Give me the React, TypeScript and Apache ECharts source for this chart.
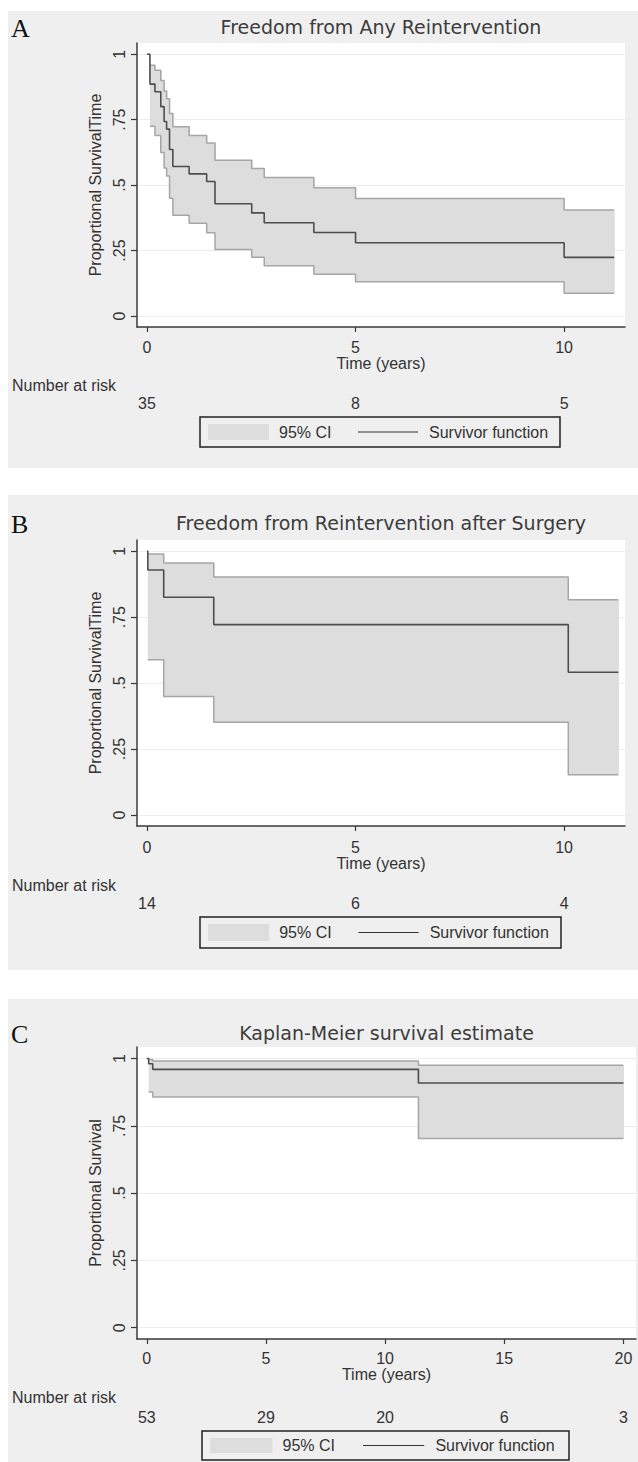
import React, { useEffect, useRef } from "react";
import * as echarts from "echarts";

// ---------------- data ----------------
const yTickValues = [0, 0.25, 0.5, 0.75, 1];

// Panel A: Freedom from Any Reintervention
const titleA = "Freedom from Any Reintervention";
const yNameA = "Proportional SurvivalTime";
const timeA = [0, 0.07, 0.19, 0.33, 0.41, 0.47, 0.54, 0.62, 1.01, 1.43, 1.63, 2.51, 2.81, 4.0, 5.0, 10.0, 11.2];
const survA = [1, 0.886, 0.857, 0.8, 0.743, 0.714, 0.636, 0.571, 0.543, 0.514, 0.429, 0.394, 0.356, 0.319, 0.28, 0.224, 0.224];
const ciTimeA = [0.07, 0.19, 0.33, 0.41, 0.47, 0.54, 0.62, 1.01, 1.43, 1.63, 2.51, 2.81, 4.0, 5.0, 10.0, 11.2];
const upperA = [0.958, 0.939, 0.9, 0.86, 0.83, 0.774, 0.723, 0.69, 0.661, 0.595, 0.564, 0.529, 0.49, 0.449, 0.405, 0.405];
const lowerA = [0.725, 0.69, 0.625, 0.565, 0.535, 0.45, 0.385, 0.354, 0.318, 0.254, 0.224, 0.192, 0.16, 0.131, 0.087, 0.087];
const xTicksA = [0, 5, 10];
const riskA = [35, 8, 5];

// Panel B: Freedom from Reintervention after Surgery
const titleB = "Freedom from Reintervention after Surgery";
const yNameB = "Proportional SurvivalTime";
const timeB = [0, 0.02, 0.4, 1.6, 10.1, 11.3];
const survB = [1, 0.929, 0.826, 0.722, 0.541, 0.541];
const ciTimeB = [0.02, 0.4, 1.6, 10.1, 11.3];
const upperB = [0.99, 0.956, 0.903, 0.816, 0.816];
const lowerB = [0.589, 0.449, 0.352, 0.152, 0.152];
const xTicksB = [0, 5, 10];
const riskB = [14, 6, 4];

// Panel C: Kaplan-Meier survival estimate
const titleC = "Kaplan-Meier survival estimate";
const yNameC = "Proportional Survival";
const timeC = [0, 0.08, 0.25, 11.4, 20.0];
const survC = [1, 0.981, 0.96, 0.909, 0.909];
const ciTimeC = [0.08, 0.25, 11.4, 20.0];
const upperC = [0.997, 0.991, 0.975, 0.975];
const lowerC = [0.876, 0.857, 0.703, 0.703];
const xTicksC = [0, 5, 10, 15, 20];
const riskC = [53, 29, 20, 6, 3];

const xAxisTitle = "Time (years)";
const riskTitle = "Number at risk";
const legendCI = "95% CI";
const legendKM = "Survivor function";

// ---------------- styles / layout ----------------
const SANS = '"Liberation Sans", Arial, Helvetica, sans-serif';
const TITLE_FONT = '"DejaVu Sans", Verdana, sans-serif';
const SERIF = '"Liberation Serif", "Times New Roman", serif';
const TEXT = "#333333";
const TITLE_COLOR = "#3c3c3c";
const PANEL_BG = "#efefef";
const BAND = "#dddddd";
const BAND_EDGE = "#a6a6a6";
const KM_LINE = "#4d4d4d";
const AXIS = "#3a3a3a";

const panels = [
  {
    letter: "A", title: titleA, yName: yNameA, time: timeA, surv: survA, ciTime: ciTimeA,
    upper: upperA, lower: lowerA, xTicks: xTicksA, risk: riskA, xMin: -0.24, xMax: 11.46,
    L: { bgTop: 11, bgBottom: 468, titleY: 27, gridTop: 43, gridBottom: 327, gridRight: 625,
      tickLabelY: 347, xNameY: 362, riskLabelY: 385, riskY: 403, lg: { x: 200, y: 417, w: 360, h: 30 } },
  },
  {
    letter: "B", title: titleB, yName: yNameB, time: timeB, surv: survB, ciTime: ciTimeB,
    upper: upperB, lower: lowerB, xTicks: xTicksB, risk: riskB, xMin: -0.24, xMax: 11.46,
    L: { bgTop: 495, bgBottom: 970, titleY: 523, gridTop: 540, gridBottom: 826, gridRight: 625,
      tickLabelY: 847, xNameY: 862, riskLabelY: 885, riskY: 903, lg: { x: 200, y: 917, w: 361, h: 31 } },
  },
  {
    letter: "C", title: titleC, yName: yNameC, time: timeC, surv: survC, ciTime: ciTimeC,
    upper: upperC, lower: lowerC, xTicks: xTicksC, risk: riskC, xMin: -0.41, xMax: 20.53,
    L: { bgTop: 999, bgBottom: 1462, titleY: 1033, gridTop: 1047, gridBottom: 1339, gridRight: 636,
      tickLabelY: 1358, xNameY: 1373, riskLabelY: 1397, riskY: 1417, lg: { x: 202, y: 1431, w: 367, h: 29 } },
  },
];

const GRID_LEFT = 137;
const Y_MIN = -0.042;
const Y_MAX = 1.043;

function yFmt(v: number) {
  if (v === 0) return "0";
  if (v === 1) return "1";
  return String(v).replace(/^0/, "");
}

function txt(x: number, y: number, text: string, size: number, family: string, align = "left", z = 10, color = TEXT) {
  return {
    type: "text", x, y, z, silent: true,
    style: {
      text, fill: color, font: `${size}px ${family}`, fontSize: size, fontFamily: family,
      textAlign: align, align, textVerticalAlign: "middle", verticalAlign: "middle",
    },
  };
}

function bandRenderItem(params: any, api: any) {
  const t0 = api.value(0);
  const t1 = api.value(1);
  const lo = api.value(2);
  const hi = api.value(3);
  const pTop = api.coord([t0, hi]);
  const pBot = api.coord([t1, lo]);
  return {
    type: "rect",
    shape: { x: pTop[0], y: pTop[1], width: pBot[0] - pTop[0] + 0.6, height: pBot[1] - pTop[1] },
    style: { fill: BAND },
  };
}

function buildOption() {
  const grid: any[] = [];
  const xAxis: any[] = [];
  const yAxis: any[] = [];
  const series: any[] = [];
  const graphic: any[] = [];

  panels.forEach((p, i) => {
    const L = p.L;
    // panel background
    graphic.push({
      type: "rect", z: -5, silent: true,
      shape: { x: 8, y: L.bgTop, width: 630, height: L.bgBottom - L.bgTop },
      style: { fill: PANEL_BG },
    });
    graphic.push(txt(11, L.titleY + 1, p.letter, 26, SERIF, "left", 10, "#111"));
    graphic.push(txt((GRID_LEFT + L.gridRight) / 2, L.titleY, p.title, 19, TITLE_FONT, "center", 10, TITLE_COLOR));
    graphic.push(txt(12, L.riskLabelY, riskTitle, 16, SANS));

    // legend
    const lg = L.lg;
    const s = lg.w / 360;
    graphic.push({
      type: "rect", z: 10, silent: true,
      shape: { x: lg.x, y: lg.y, width: lg.w, height: lg.h },
      style: { fill: PANEL_BG, stroke: "#222", lineWidth: 1.5 },
    });
    graphic.push({
      type: "rect", z: 11, silent: true,
      shape: { x: lg.x + 8 * s, y: lg.y + 7, width: 61 * s, height: lg.h - 14 },
      style: { fill: BAND },
    });
    graphic.push(txt(lg.x + 79 * s, lg.y + lg.h / 2, legendCI, 16, SANS, "left", 11));
    graphic.push({
      type: "line", z: 11, silent: true,
      shape: { x1: lg.x + 158 * s, y1: lg.y + lg.h / 2, x2: lg.x + 218 * s, y2: lg.y + lg.h / 2 },
      style: { stroke: "#333", lineWidth: 1.2 },
    });
    graphic.push(txt(lg.x + 229 * s, lg.y + lg.h / 2, legendKM, 16, SANS, "left", 11));

    grid.push({
      left: GRID_LEFT, top: L.gridTop, width: L.gridRight - GRID_LEFT, height: L.gridBottom - L.gridTop,
      show: true, backgroundColor: "#ffffff", borderWidth: 0, containLabel: false, outerBoundsMode: "none",
    });

    const labelStyle = { color: TEXT, fontSize: 16, fontFamily: SANS };
    xAxis.push({
      gridIndex: i, type: "value", min: p.xMin, max: p.xMax, position: "bottom",
      axisLine: { show: true, onZero: false, lineStyle: { color: AXIS, width: 1.5 } },
      axisTick: { show: true, length: 5, customValues: p.xTicks, lineStyle: { color: AXIS, width: 1.2 } },
      axisLabel: { ...labelStyle, customValues: p.xTicks, margin: L.tickLabelY - 8 - L.gridBottom, formatter: (v: number) => String(v) },
      splitLine: { show: false },
      name: xAxisTitle, nameLocation: "middle", nameGap: L.xNameY - 8 - L.gridBottom,
      nameTextStyle: { ...labelStyle },
    });
    const risk = p.risk;
    const ticks = p.xTicks;
    xAxis.push({
      gridIndex: i, type: "value", min: p.xMin, max: p.xMax, position: "bottom",
      offset: L.riskY - 8 - L.gridBottom - 6,
      axisLine: { show: false }, axisTick: { show: false }, splitLine: { show: false },
      axisLabel: {
        ...labelStyle, customValues: ticks, margin: 6,
        formatter: (v: number) => {
          const k = ticks.indexOf(v);
          return k >= 0 ? String(risk[k]) : "";
        },
      },
    });
    yAxis.push({
      gridIndex: i, type: "value", min: Y_MIN, max: Y_MAX,
      axisLine: { show: true, onZero: false, lineStyle: { color: AXIS, width: 1.5 } },
      axisTick: { show: true, length: 6, customValues: yTickValues, lineStyle: { color: AXIS, width: 1.2 } },
      axisLabel: { ...labelStyle, customValues: yTickValues, rotate: 90, margin: 10, formatter: yFmt },
      splitLine: { show: true, lineStyle: { color: "#ececec", width: 1.2 } },
      name: p.yName, nameLocation: "middle", nameGap: 28,
      nameTextStyle: { ...labelStyle },
    });

    const xi = i * 2;
    // CI band as step rectangles between consecutive event times
    const bandData = p.ciTime.slice(0, -1).map((t, k) => [t, p.ciTime[k + 1], p.lower[k], p.upper[k]]);
    series.push({
      type: "custom", name: "ciBand" + i, xAxisIndex: xi, yAxisIndex: i,
      renderItem: bandRenderItem, data: bandData, encode: { x: [0, 1], y: [2, 3] },
      silent: true, z: 2,
    });
    const common = {
      type: "line", xAxisIndex: xi, yAxisIndex: i, step: "end", symbol: "none", showSymbol: false,
      silent: true, animation: false,
    };
    series.push({
      ...common, name: "ciUpper" + i,
      data: p.ciTime.map((t, k) => [t, p.upper[k]]),
      lineStyle: { color: BAND_EDGE, width: 1.5 }, z: 3,
    });
    series.push({
      ...common, name: "ciLower" + i,
      data: p.ciTime.map((t, k) => [t, p.lower[k]]),
      lineStyle: { color: BAND_EDGE, width: 1.5 }, z: 3,
    });
    series.push({
      ...common, name: "km" + i,
      data: p.time.map((t, k) => [t, p.surv[k]]),
      lineStyle: { color: KM_LINE, width: 1.6 }, z: 4,
    });
  });

  return {
    animation: false,
    backgroundColor: "#ffffff",
    grid, xAxis, yAxis, series, graphic,
  };
}

export default function App() {
  const ref = useRef<HTMLDivElement>(null);
  useEffect(() => {
    if (!ref.current) return;
    document.body.style.margin = "0";
    const chart = echarts.init(ref.current, null, { renderer: "svg" });
    chart.setOption(buildOption() as any);
    return () => chart.dispose();
  }, []);
  return (
    <div
      ref={ref}
      style={{ position: "absolute", left: 0, top: 0, width: 638, height: 1462, background: "#fff" }}
    />
  );
}
